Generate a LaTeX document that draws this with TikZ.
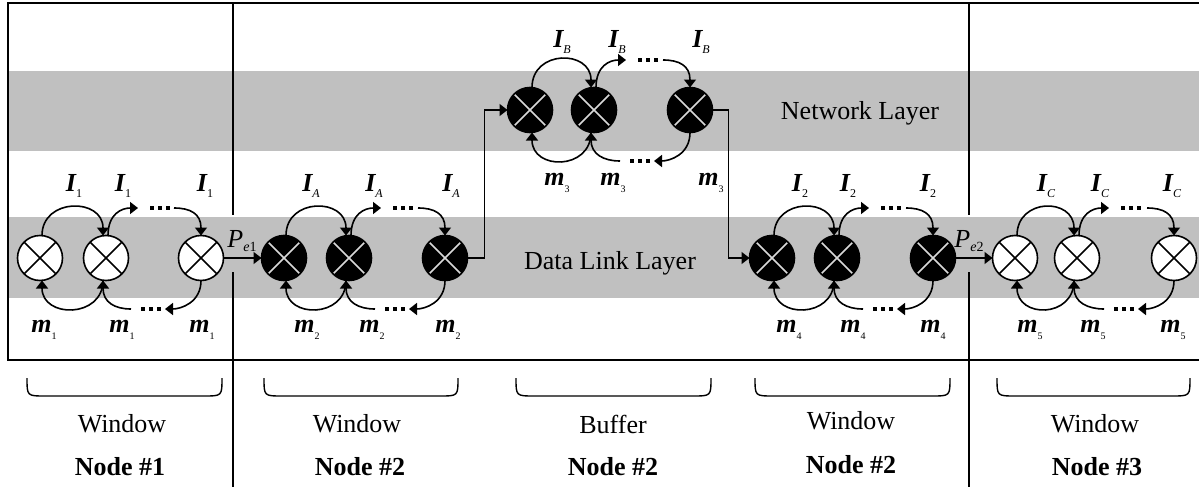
\documentclass[tikz,border=0pt]{standalone}
\usepackage{fontspec}
\setmainfont{Liberation Serif}
\usetikzlibrary{arrows.meta,calc}
\definecolor{band}{RGB}{192,192,192}
\newcommand{\lb}[2]{{\bfseries\itshape #1}\raisebox{-0.45ex}{\fontsize{12}{12}\selectfont #2}}
\newcommand{\mb}[1]{{\bfseries\itshape m}\raisebox{-0.6ex}{\fontsize{10}{10}\selectfont #1}}
\tikzset{
  lw/.style={line width=1.6pt},
  flow/.style={line width=1.6pt, -{Triangle[length=8pt,width=12pt]}},
  xnode/.style={circle, draw, line width=1.6pt, minimum size=45pt, inner sep=0pt, outer sep=0pt},
  wnode/.style={xnode, fill=white, path picture={\draw[line width=1.6pt,black]
     (path picture bounding box.north west) -- (path picture bounding box.south east)
     (path picture bounding box.north east) -- (path picture bounding box.south west);}},
  bnode/.style={xnode, fill=black, path picture={\draw[line width=1.6pt,band!60!white]
     (path picture bounding box.north west) -- (path picture bounding box.south east)
     (path picture bounding box.north east) -- (path picture bounding box.south west);}},
  txt/.style={font=\fontsize{26}{26}\selectfont, inner sep=0pt},
  btxt/.style={font=\fontsize{26}{26}\selectfont\bfseries, inner sep=0pt},
  lab/.style={font=\fontsize{26}{26}\selectfont, inner sep=0pt},
  brace/.style={line width=1.4pt},
}
% #1 prefix, #2 a, #3 b, #4 c, #5 Y, #6 style
\newcommand{\grp}[6]{%
  \node[#6] (#1a) at (#2,#5) {};
  \node[#6] (#1b) at (#3,#5) {};
  \node[#6] (#1c) at (#4,#5) {};
  \coordinate (#1t1) at ({#3+32},{#5-50});
  \coordinate (#1t2) at ({#4-27},{#5-50});
  \coordinate (#1u1) at ({#4-36},{#5+51});
  \coordinate (#1u2) at ({#4-70},{#5+51});
  \draw[flow] ([xshift=2pt]#1a.north) .. controls +(0,-38) and +(0,-38) .. ([xshift=-3pt]#1b.north);
  \draw[flow] ([xshift=2pt]#1b.north) .. controls +(0,-22) and +(-16,0) .. (#1t1);
  \draw[flow] (#1t2) .. controls +(16,0) and +(0,-22) .. (#1c.north);
  \draw[flow] ([xshift=-3pt]#1b.south) .. controls +(0,38) and +(0,38) .. ([xshift=2pt]#1a.south);
  \draw[flow] (#1c.south) .. controls +(0,22) and +(16,0) .. (#1u1);
  \draw[flow] (#1u2) .. controls +(-16,0) and +(0,22) .. ([xshift=-3pt]#1b.south);
  \foreach \d in {46,54,62} {\fill ({#3+\d-2},{#5-52}) rectangle ({#3+\d+2},{#5-48});}
  \foreach \d in {58,50,42} {\fill ({#4-\d-2},{#5+49}) rectangle ({#4-\d+2},{#5+53});}
}
\begin{document}
\begin{tikzpicture}[x=1pt,y=-1pt]
\useasboundingbox (0,0) rectangle (1199,487);
% bands
\fill[band] (8,71) rectangle (1199,151);
\fill[band] (8,217) rectangle (1199,298);
% frame
\draw[lw] (1199,3) -- (8,3) -- (8,360) -- (1199,360);
\draw[lw] (233,3) -- (233,215) (233,272) -- (233,487);
\draw[lw] (969,3) -- (969,215) (969,272) -- (969,487);
% layer names
\node[txt] (nl) at (860,113) {Network Layer};
\node[txt] (dl) at (610,263) {Data Link Layer};
% groups
\grp{p}{40}{106}{201}{258}{wnode}
\grp{q}{284}{349}{445}{258}{bnode}
\grp{r}{530}{594}{690}{110}{bnode}
\grp{s}{772}{837}{933}{258}{bnode}
\grp{t}{1015}{1077}{1174}{258}{wnode}
% connectors
\draw[flow] (pc.east) -- (qa.west);
\draw[flow] (qc.east) -- ++(17,0) |- (ra.west);
\draw[flow] (rc.east) -- ++(16,0) |- (sa.west);
\draw[flow] (sc.east) -- (ta.west);
\node[lab] (pe1) at (242,241) {\textit{P}\raisebox{-0.4ex}{\fontsize{14}{14}\selectfont\textit{e}1}};
\node[lab] (pe2) at (969,241) {\textit{P}\raisebox{-0.4ex}{\fontsize{14}{14}\selectfont\textit{e}2}};
% lambda labels
\foreach \x in {74,123,205} {\node[lab] at (\x,186) {\lb{I}{1}};}
\foreach \x in {311,374,451} {\node[lab] at (\x,186) {\lb{I}{\textit{A}}};}
\foreach \x in {562,617,701} {\node[lab] at (\x,42) {\lb{I}{\textit{B}}};}
\foreach \x in {800,848,928} {\node[lab] at (\x,186) {\lb{I}{2}};}
\foreach \x in {1046,1100,1172} {\node[lab] at (\x,186) {\lb{I}{\textit{C}}};}
% mu labels
\foreach \x in {44,122,202} {\node[lab] at (\x,330) {\mb{1}};}
\foreach \x in {307,372,448} {\node[lab] at (\x,330) {\mb{2}};}
\foreach \x in {557,613,711} {\node[lab] at (\x,183) {\mb{3}};}
\foreach \x in {789,853,933} {\node[lab] at (\x,330) {\mb{4}};}
\foreach \x in {1030,1093,1173} {\node[lab] at (\x,330) {\mb{5}};}
% braces
\foreach \l/\r in {27/222,264/458,516/711,755/950,997/1190} {
  \draw[brace] (\l,378) .. controls (\l,396) .. (\l+18,396) -- (\r-18,396) .. controls (\r,396) .. (\r,378);
}
\node[txt] (w1) at (122,424) {Window};
\node[txt] (w2) at (357,424) {Window};
\node[txt] (w3) at (613,424) {Buffer};
\node[txt] (w4) at (851,421) {Window};
\node[txt] (w5) at (1095,424) {Window};
\node[btxt] (n1) at (120,467) {Node \#1};
\node[btxt] (n2) at (360,467) {Node \#2};
\node[btxt] (n3) at (613,467) {Node \#2};
\node[btxt] (n4) at (851,465) {Node \#2};
\node[btxt] (n5) at (1097,467) {Node \#3};
\end{tikzpicture}
\end{document}
